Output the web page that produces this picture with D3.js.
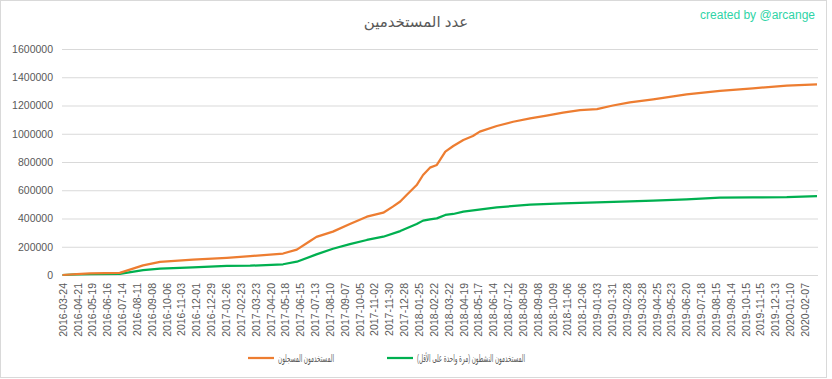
<!DOCTYPE html>
<html><head><meta charset="utf-8">
<script src="https://cdn.jsdelivr.net/npm/d3@7"></script>
<style>body{margin:0;background:#fff;overflow:hidden}</style>
</head><body>
<svg id="c" width="832" height="379"></svg>
<script>
const titleText = "عدد المستخدمين";
const creditText = "created by @arcange";
const seriesNames = ["المستخدمون المسجلون", "المستخدمون النشطون (مرة واحدة على الأقل)"];
const tickLabels = [
"2016-03-24","2016-04-21","2016-05-19","2016-06-16","2016-07-14","2016-08-11","2016-09-08","2016-10-06","2016-11-03","2016-12-01","2016-12-29",
"2017-01-26","2017-02-23","2017-03-23","2017-04-20","2017-05-18","2017-06-15","2017-07-13","2017-08-10","2017-09-07","2017-10-05","2017-11-02","2017-11-30","2017-12-28",
"2018-01-25","2018-02-22","2018-03-22","2018-04-19","2018-05-17","2018-06-14","2018-07-12","2018-08-09","2018-09-08","2018-10-09","2018-11-06","2018-12-06",
"2019-01-03","2019-01-31","2019-02-28","2019-03-28","2019-04-25","2019-05-23","2019-06-20","2019-07-18","2019-08-15","2019-09-14","2019-10-15","2019-11-15","2019-12-13",
"2020-01-10","2020-02-07"];
const labelEvery = 28;
const lastIndex = 1423;
const yTicks = [0,200000,400000,600000,800000,1000000,1200000,1400000,1600000];

const registeredIdx = [0,27,52,108,152,184,246,310,354,416,442,467,479,510,542,574,605,623,637,649,668,680,693,706,722,737,756,774,787,819,850,882,913,944,976,1008,1038,1070,1114,1177,1240,1302,1366,1423];
const registered   = [0,6000,12000,15000,68000,93000,108000,122000,133000,152000,180000,241000,270000,307000,361000,413000,441000,484000,520000,566000,637000,708000,760000,779000,873000,913000,956000,984000,1015000,1055000,1085000,1109000,1128000,1149000,1168000,1175000,1200000,1222000,1244000,1279000,1303000,1322000,1340000,1350000];

const activeIdx = [0,27,52,108,152,184,246,310,354,416,442,479,510,542,574,605,637,668,680,693,706,722,737,756,819,882,944,1008,1070,1114,1177,1240,1302,1366,1423];
const active    = [0,4000,7000,8000,35000,45000,54000,64000,66000,76000,94000,146000,186000,219000,248000,271000,311000,361000,385000,394000,401000,425000,432000,448000,479000,498000,507000,514000,522000,526000,536000,547000,549000,551000,558000];

const colors = ["#ED7D31", "#00B050"];
const textColor = "#595959";
const font = "'Liberation Sans','DejaVu Sans',sans-serif";

const svg = d3.select("#c");
svg.append("rect").attr("x",0.5).attr("y",0.5).attr("width",826).attr("height",377)
  .attr("fill","#fff").attr("stroke","#d9d9d9");

const x = d3.scaleLinear().domain([0,lastIndex]).range([62.5,817]);
const y = d3.scaleLinear().domain([0,1600000]).range([275,49]);

// gridlines + y labels
const yAxis = d3.axisLeft(y).tickValues(yTicks).tickSize(-(818-62)).tickPadding(9).tickFormat(d3.format("d"));
const gy = svg.append("g").attr("transform","translate(62,0)").call(yAxis);
gy.select(".domain").remove();
gy.selectAll("line").attr("stroke","#d9d9d9").attr("stroke-width",1);
gy.selectAll("text").attr("fill",textColor).style("font-family",font).style("font-size","10.5px");

// x labels
const tv = d3.range(tickLabels.length).map(i=>i*labelEvery);
const xAxis = d3.axisBottom(x).tickValues(tv).tickSize(0).tickFormat(d=>tickLabels[d/labelEvery]);
const gx = svg.append("g").attr("transform","translate(0,275)").call(xAxis);
gx.select(".domain").remove();
gx.selectAll("text").attr("fill",textColor).style("font-family",font).style("font-size","10.5px")
  .attr("text-anchor","end").attr("transform","rotate(-90)").attr("x",-8).attr("y",0).attr("dy","0.35em");

// lines
const line = d3.line().x(d=>x(d[0])).y(d=>y(d[1]));
const act = activeIdx.map((d,i)=>[d,active[i]]);
const reg = registeredIdx.map((d,i)=>[d,registered[i]]);
svg.append("path").datum(act).attr("d",line).attr("fill","none").attr("stroke",colors[1]).attr("stroke-width",2.25).attr("stroke-linejoin","round");
svg.append("path").datum(reg).attr("d",line).attr("fill","none").attr("stroke",colors[0]).attr("stroke-width",2.25).attr("stroke-linejoin","round");

// title
svg.append("text").attr("x",416).attr("y",27).attr("text-anchor","middle").attr("fill",textColor)
  .style("font-family",font).style("font-size","15px").text(titleText);
svg.append("text").attr("x",815).attr("y",19).attr("text-anchor","end").attr("fill","#2fd4a6")
  .style("font-family",font).style("font-size","12px").text(creditText);

// legend
const legendItems = [{x:248, c:colors[0], t:seriesNames[0], w:56}, {x:387, c:colors[1], t:seriesNames[1], w:108}];
const lg = svg.append("g");
legendItems.forEach(it=>{
  lg.append("line").attr("x1",it.x).attr("x2",it.x+26).attr("y1",358).attr("y2",358).attr("stroke",it.c).attr("stroke-width",2.25);
  lg.append("text").attr("x",it.x+it.w+30).attr("y",361.5).attr("fill",textColor).attr("text-anchor","end")
    .attr("textLength",it.w).attr("lengthAdjust","spacingAndGlyphs")
    .style("font-family",font).style("font-size","10.5px").text(it.t);
});
</script>
</body></html>
